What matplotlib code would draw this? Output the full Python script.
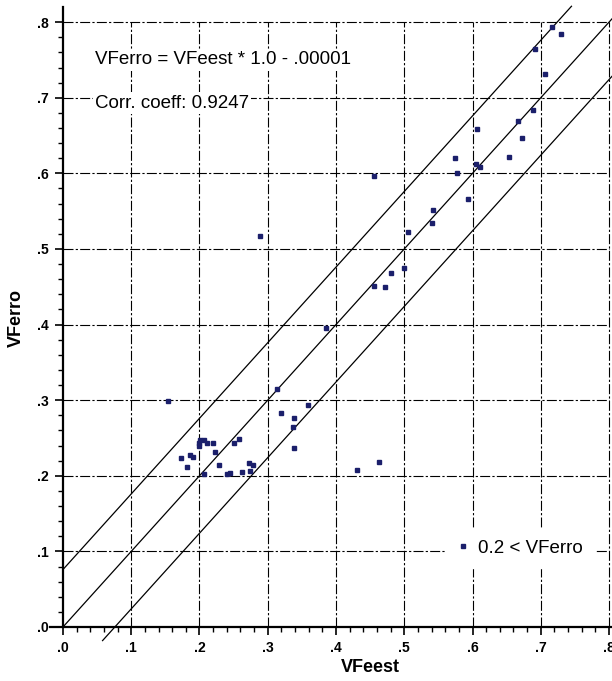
import matplotlib.pyplot as plt
from matplotlib.lines import Line2D
import numpy as np

plt.rcParams['font.family'] = ['Liberation Sans', 'DejaVu Sans']

# Puntos (VFeest, VFerro)
vfeest = [0.717, 0.730, 0.692, 0.706, 0.689, 0.666, 0.672, 0.606, 0.653, 0.574,
          0.578, 0.605, 0.611, 0.456, 0.593, 0.542, 0.540, 0.506, 0.500, 0.481,
          0.456, 0.472, 0.386, 0.288, 0.154, 0.313, 0.319, 0.339, 0.337, 0.339,
          0.173, 0.182, 0.186, 0.191, 0.200, 0.201, 0.206, 0.211, 0.220, 0.223,
          0.228, 0.206, 0.240, 0.245, 0.251, 0.258, 0.263, 0.272, 0.278, 0.274,
          0.359, 0.431, 0.463, 0.199]
vferro = [0.794, 0.784, 0.765, 0.731, 0.684, 0.669, 0.647, 0.658, 0.621, 0.620,
          0.601, 0.613, 0.608, 0.597, 0.566, 0.551, 0.534, 0.523, 0.475, 0.468,
          0.451, 0.450, 0.395, 0.517, 0.299, 0.315, 0.283, 0.276, 0.264, 0.237,
          0.223, 0.212, 0.227, 0.225, 0.243, 0.247, 0.247, 0.243, 0.244, 0.232,
          0.214, 0.202, 0.203, 0.204, 0.243, 0.248, 0.205, 0.217, 0.214, 0.206,
          0.293, 0.208, 0.218, 0.240]

# Recta de ajuste y banda
pendiente = 1.0
intercepto = -0.00001
banda = 0.076

ticks = np.arange(0, 0.81, 0.1)
etiquetas = ['.0', '.1', '.2', '.3', '.4', '.5', '.6', '.7', '.8']

fig = plt.figure(figsize=(6.12, 6.81), dpi=100)
ax = fig.add_axes([0.0817, 0.0793, 0.919, 0.9104])
ax.set_xlim(-0.019, 0.805)
ax.set_ylim(0, 0.82)

# Rejilla punteada
estilo = (0, (9, 2, 2, 2))
ax.vlines(ticks[1:], 0, 0.8, colors='black', linestyles=[estilo], linewidth=0.8, zorder=1)
ax.hlines(ticks[1:], 0, 0.8, colors='black', linestyles=[estilo], linewidth=0.8, zorder=1)

# Rectas
x_sup = np.array([0, 0.745])
x_med = np.array([0, 0.805])
x_inf = np.array([0.058, 0.805])
ax.plot(x_sup, pendiente * x_sup + intercepto + banda, color='black', lw=0.9, zorder=2, clip_on=False)
ax.plot(x_med, pendiente * x_med + intercepto, color='black', lw=0.9, zorder=2, clip_on=False)
ax.plot(x_inf, pendiente * x_inf + intercepto - banda, color='black', lw=0.9, zorder=2, clip_on=False)

# Puntos
ax.plot(vfeest, vferro, 's', color='#1b1f6b', ms=3.5, zorder=4, label='0.2 < VFerro')

# Ejes
ax.spines['top'].set_visible(False)
ax.spines['right'].set_visible(False)
ax.spines['left'].set_position(('data', 0))
ax.spines['left'].set_linewidth(1.6)
ax.spines['bottom'].set_linewidth(1.6)
ax.set_xticks(ticks)
ax.set_xticklabels(etiquetas, fontsize=10, fontweight='bold')
ax.set_yticks(ticks)
ax.set_yticklabels(etiquetas, fontsize=10, fontweight='bold')
ax.set_xticks(np.arange(0.02, 0.8, 0.02), minor=True)
ax.set_yticks(np.arange(0.02, 0.8, 0.02), minor=True)
ax.tick_params(which='major', length=6, width=1.2, direction='out', pad=4)
ax.tick_params(which='minor', length=3.5, width=1.0, direction='out')

fig.text(370 / 612, 1 - 668 / 681, 'VFeest', fontsize=13, fontweight='bold', ha='center', va='center')
fig.text(16 / 612, 1 - 318 / 681, 'VFerro', fontsize=13, fontweight='bold', ha='center', va='center', rotation=90)

# Textos
caja = dict(facecolor='white', edgecolor='none', pad=1.5)
ax.text(0.047, 0.75, 'VFerro = VFeest * 1.0 - .00001', fontsize=13.5, va='center', ha='left', bbox=caja, zorder=3)
ax.text(0.047, 0.693, 'Corr. coeff: 0.9247', fontsize=13.5, va='center', ha='left', bbox=caja, zorder=3)

# Leyenda
marca = Line2D([], [], marker='s', ls='none', color='#1b1f6b', ms=3)
ley = ax.legend([marca], ['0.2 < VFerro'], loc='center', bbox_to_anchor=(0.67, 0.1045),
                bbox_transform=ax.transData, frameon=True, framealpha=1, edgecolor='white',
                fancybox=False, fontsize=13.5, handlelength=0.6, handletextpad=0.5,
                borderpad=0.6)
ley.set_zorder(5)

fig.savefig('out.png', dpi=100)
